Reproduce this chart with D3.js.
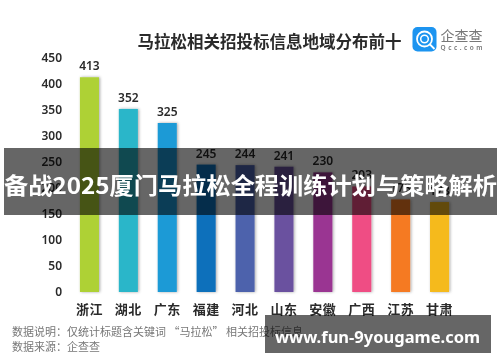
<!DOCTYPE html>
<html>
<head>
<meta charset="utf-8">
<script src="https://d3js.org/d3.v7.min.js"></script>
<style>
html, body { margin: 0; padding: 0; background: #fff; }
svg { display: block; font-family: "Noto Sans CJK SC", "Noto Sans", sans-serif; }
</style>
</head>
<body>
<svg id="chart" width="500" height="362"></svg>
<script>
const provinces = ['浙江', '湖北', '广东', '福建', '河北', '山东', '安徽', '广西', '江苏', '甘肃'];
const counts = [413, 352, 325, 245, 244, 241, 230, 203, 178, 173];
const barColors = ['#aed136', '#29b6c9', '#1a9ad6', '#0b6fbb', '#4e62ac', '#6a519f', '#9a3592', '#ef4e84', '#f57a22', '#f5ba1c'];
const yTicks = [0, 50, 100, 150, 200, 250, 300, 350, 400, 450];

const svg = d3.select('#chart');

// soft edges, the source picture is a scaled up jpeg
const defs = svg.append('defs');
defs.append('filter').attr('id', 'soft')
    .append('feGaussianBlur').attr('stdDeviation', 0.35);
const shadow = defs.append('filter').attr('id', 'barShadow')
    .attr('x', '-30%').attr('width', '170%').attr('y', '-5%').attr('height', '110%');
shadow.append('feDropShadow')
    .attr('dx', 1).attr('dy', 0).attr('stdDeviation', 1.4)
    .attr('flood-color', '#000').attr('flood-opacity', 0.35);

const x = d3.scaleBand().domain(provinces).range([70, 459]).paddingInner(0.51).paddingOuter(0.255);
const y = d3.scaleLinear().domain([0, 450]).range([292, 58]);

const chart = svg.append('g').attr('filter', 'url(#soft)');

chart.append('text')
    .attr('x', 269.5).attr('y', 48)
    .attr('text-anchor', 'middle')
    .attr('font-size', 16.5).attr('font-weight', 700).attr('fill', '#2b2b2b')
    .text('马拉松相关招投标信息地域分布前十');

// y axis, only the labels are visible
const yAxis = chart.append('g')
    .attr('transform', 'translate(62,0)')
    .call(d3.axisLeft(y).tickValues(yTicks).tickSize(0).tickPadding(0));
yAxis.select('.domain').remove();
yAxis.selectAll('text')
    .attr('font-family', '"Noto Sans", sans-serif')
    .attr('font-size', 12).attr('font-weight', 600).attr('fill', '#2b2b2b');

const xAxis = chart.append('g')
    .attr('transform', 'translate(0,292)')
    .call(d3.axisBottom(x).tickSize(0).tickPadding(13));
xAxis.select('.domain').remove();
xAxis.selectAll('text')
    .attr('font-family', '"Noto Sans CJK SC", sans-serif')
    .attr('font-size', 13).attr('font-weight', 700).attr('fill', '#2b2b2b')
    .attr('letter-spacing', 0.5);

chart.selectAll('.bar')
    .data(provinces)
    .enter()
    .append('rect')
    .attr('class', 'bar')
    .attr('x', d => x(d))
    .attr('y', (d, i) => y(counts[i]))
    .attr('width', x.bandwidth())
    .attr('height', (d, i) => y(0) - y(counts[i]))
    .attr('fill', (d, i) => barColors[i])
    .attr('filter', 'url(#barShadow)');

chart.selectAll('.value')
    .data(provinces)
    .enter()
    .append('text')
    .attr('class', 'value')
    .attr('x', d => x(d) + x.bandwidth() / 2)
    .attr('y', (d, i) => y(counts[i]) - 7)
    .attr('text-anchor', 'middle')
    .attr('font-family', '"Noto Sans", sans-serif')
    .attr('font-size', 12).attr('font-weight', 600).attr('fill', '#2b2b2b')
    .text((d, i) => counts[i]);

// footnotes
const notes = chart.append('g')
    .attr('font-size', 11).attr('fill', '#777');
notes.append('text').attr('x', 12).attr('y', 336).text('数据说明：仅统计标题含关键词 “马拉松” 相关招投标信息');
notes.append('text').attr('x', 12).attr('y', 351).text('数据来源：企查查');

// logo
const logo = chart.append('g').attr('transform', 'translate(412.5,27)');
logo.append('rect').attr('width', 24).attr('height', 24.5).attr('rx', 5).attr('fill', '#1a94f0');
logo.append('circle').attr('cx', 12).attr('cy', 12).attr('r', 7.5)
    .attr('fill', 'none').attr('stroke', '#fff').attr('stroke-width', 1.8);
logo.append('circle').attr('cx', 12).attr('cy', 12).attr('r', 3.8)
    .attr('fill', 'none').attr('stroke', '#fff').attr('stroke-width', 1.5);
logo.append('line').attr('x1', 17).attr('y1', 17).attr('x2', 22).attr('y2', 22)
    .attr('stroke', '#fff').attr('stroke-width', 1.8);
logo.append('text').attr('x', 28).attr('y', 14)
    .attr('textLength', 42).attr('lengthAdjust', 'spacing')
    .attr('font-size', 14).attr('fill', '#777')
    .text('企查查');
logo.append('text').attr('x', 28).attr('y', 23)
    .attr('textLength', 42).attr('lengthAdjust', 'spacing')
    .attr('font-family', '"Noto Sans", sans-serif')
    .attr('font-size', 6.5).attr('font-weight', 600).attr('fill', '#777')
    .text('Qcc.com');

// overlay bands on top of the picture
svg.append('rect').attr('x', 4).attr('y', 148).attr('width', 493).attr('height', 67)
    .attr('fill', '#000').attr('fill-opacity', 0.6);
svg.append('text')
    .attr('x', 250.5).attr('y', 194)
    .attr('text-anchor', 'middle')
    .attr('textLength', 493).attr('lengthAdjust', 'spacingAndGlyphs')
    .attr('font-size', 23).attr('font-weight', 700).attr('fill', '#fff')
    .text('备战2025厦门马拉松全程训练计划与策略解析');

svg.append('rect').attr('x', 265).attr('y', 315).attr('width', 226).attr('height', 38)
    .attr('fill', '#000').attr('fill-opacity', 0.6);
svg.append('text')
    .attr('x', 377.5).attr('y', 343)
    .attr('text-anchor', 'middle')
    .attr('font-family', '"Noto Sans", sans-serif')
    .attr('font-size', 16.5).attr('font-weight', 700).attr('fill', '#fff')
    .text('www.fun-9yougame.com');
</script>
</body>
</html>
